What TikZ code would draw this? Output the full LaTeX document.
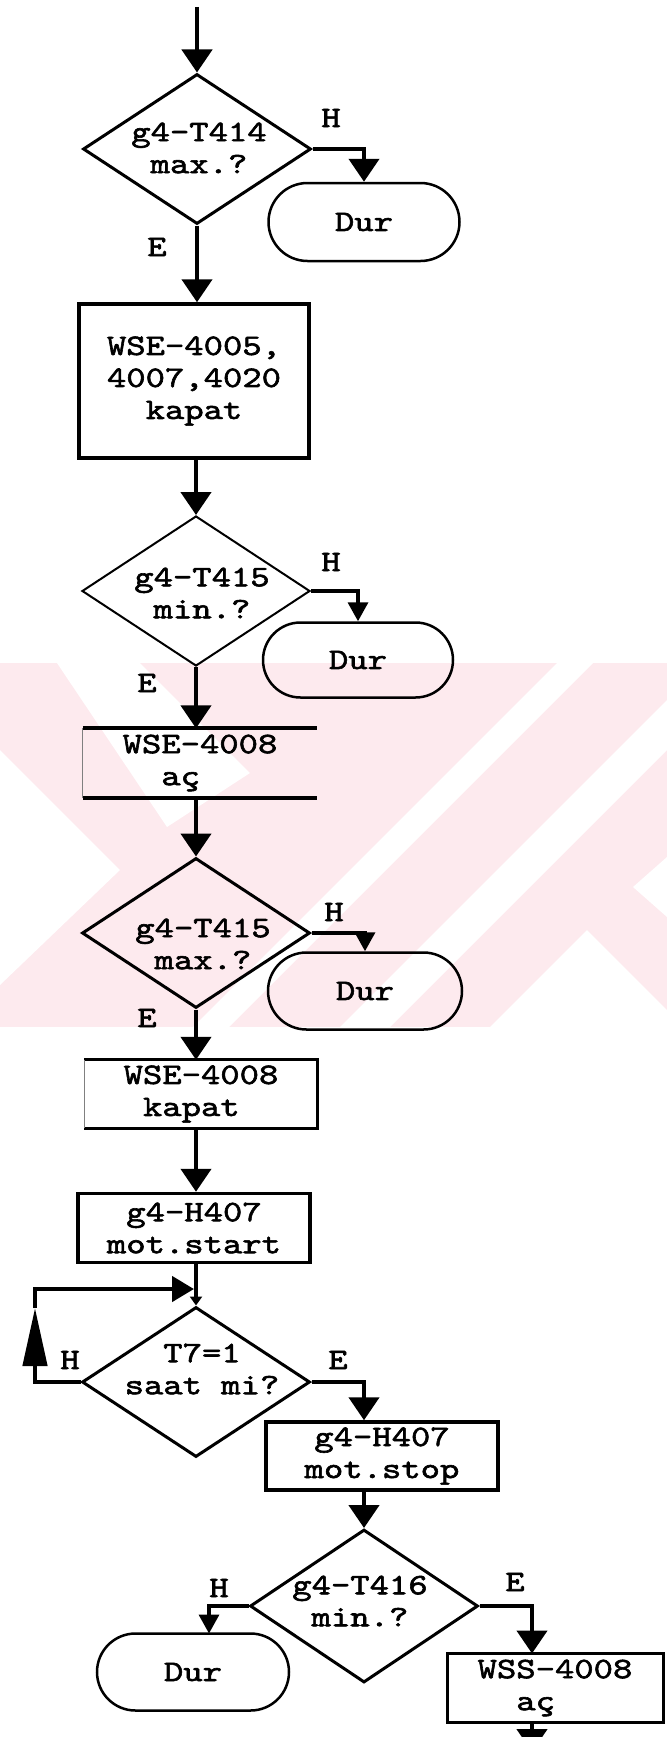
\documentclass[tikz,border=0pt]{standalone}
\usepackage{fontspec}
\usetikzlibrary{shapes.geometric,shapes.misc,arrows.meta,calc}
\newfontfamily\tw{lmmono10-regular.otf}[FakeStretch=1.24,FakeBold=2]
\definecolor{wm}{RGB}{253,234,238}
\tikzset{
  txt/.style={font=\tw\fontsize{29.7pt}{32pt}\selectfont, inner sep=0pt, align=center},
  lab/.style={font=\tw\fontsize{29.7pt}{32pt}\selectfont, inner sep=0pt},
  dia/.style={diamond, draw, line width=3pt, minimum width=228pt, minimum height=150pt, inner sep=0pt},
  pbox/.style={rectangle, draw, line width=3.5pt, inner sep=0pt, txt},
  obox/.style={rectangle, inner sep=0pt, txt, align=left},
  stop/.style={rounded rectangle, draw, line width=2.5pt, inner sep=0pt, txt},
  conn/.style={line width=4.5pt, -{Triangle[width=30pt,length=23pt]}},
  sconn/.style={line width=3.5pt, -{Triangle[width=20pt,length=19pt]}},
  edge/.style={line width=4pt}
}
\begin{document}
\begin{tikzpicture}[x=1pt,y=-1pt]
\useasboundingbox (0,0) rectangle (667,1737);
\clip (0,0) rectangle (667,1737);
\fill[white] (0,0) rectangle (667,1737);
% watermark
\begin{scope}
\clip (0,663) rectangle (667,1027);
\fill[wm] (0,663) rectangle (667,1027);
\fill[white] (557,663) -- (593,663) -- (193,1063) -- (157,1063) -- cycle;
\fill[white] (704,663) -- (754,663) -- (390,1027) -- (340,1027) -- cycle;
\fill[white] (57,663) -- (140,663) -- (250,773) -- (167,827) -- cycle;
\fill[white] (0,750) -- (120,870) -- (0,985) -- cycle;
\fill[white] (490,1027) -- (587,930) -- (684,1027) -- cycle;
\fill[white] (667,857) -- (633,887) -- (667,917) -- cycle;
\end{scope}

% nodes
\node[dia] (d1) at (197,149) {};
\node[txt] (d1t) at (199,148) {g4-T414\\max.?};
\node[stop, minimum width=191pt, minimum height=78pt] (s1) at (364,222) {Dur};
\node[pbox, minimum width=230pt, minimum height=154pt] (b1) at (194,381) {WSE-4005,\\4007,4020\\kapat};

\node[dia, line width=2pt] (d2) at (196,591) {};
\node[txt] (d2t) at (202,593) {g4-T415\\min.?};
\node[stop, minimum width=190pt, minimum height=75pt] (s2) at (358,660) {Dur};
\node[obox, minimum width=234pt, minimum height=69pt] (b2) at (200,763) {WSE-4008\\\phantom{WS}aç};
\draw[edge] (b2.north west) -- (b2.north east);
\draw[edge] (b2.south west) -- (b2.south east);
\draw[line width=0.8pt, gray] (b2.north west) -- (b2.south west);

\node[dia] (d3) at (196,933) {};
\node[txt] (d3t) at (203,944) {g4-T415\\max.?};
\node[stop, minimum width=194pt, minimum height=77pt] (s3) at (365,991) {Dur};
\node[obox, minimum width=233pt, minimum height=68pt] (b3) at (201,1094) {WSE-4008\\\phantom{W}kapat};
\draw[line width=3pt] (b3.north west) -- (b3.north east) -- (b3.south east) -- (b3.south west);
\draw[line width=0.8pt, gray] (b3.north west) -- (b3.south west);

\node[pbox, minimum width=232pt, minimum height=69pt] (b4) at (194,1228) {g4-H407\\mot.start};
\node[dia] (d4) at (196,1382) {};
\node[txt] (d4t) at (202,1369) {T7=1\\saat mi?};
\node[pbox, minimum width=232pt, minimum height=68pt] (b5) at (382,1456) {g4-H407\\mot.stop};
\node[dia, minimum height=153pt] (d5) at (364,1606) {};
\node[txt] (d5t) at (360,1601) {g4-T416\\min.?};
\node[stop, minimum width=192pt, minimum height=77pt] (s4) at (193,1672) {Dur};
\node[obox, draw, line width=3pt, minimum width=216pt, minimum height=69pt] (b6) at (555,1688) {WSS-4008\\\phantom{WS}aç};

% labels
\node[lab] (h1) at (331,118) {H};
\node[lab] (e1) at (157,247) {E};
\node[lab] (h2) at (331,562) {H};
\node[lab] (e2) at (147,683) {E};
\node[lab] (h3) at (334,912) {H};
\node[lab] (e3) at (147,1018) {E};
\node[lab] (h4) at (70,1360) {H};
\node[lab] (e4) at (338,1360) {E};
\node[lab] (h5) at (219,1588) {H};
\node[lab] (e5) at (515,1582) {E};

% connectors
\coordinate (top) at (197,7);
\draw[conn] (top) -- (d1.north);
\draw[conn] (d1.east) -| (s1.north);
\draw[conn] (d1.south) -- (d1.south |- b1.north);
\draw[conn] (d2.north |- b1.south) -- (d2.north);
\draw[sconn] (d2.east) -| (s2.north);
\draw[conn] (d2.south) -- (d2.south |- b2.north);
\draw[conn] (d3.north |- b2.south) -- (d3.north);
\draw[sconn] (d3.east) -| (s3.north);
\draw[conn] (d3.south) -- (d3.south |- b3.north);
\draw[conn] (d3.south |- b3.south) -- (d3.south |- b4.north);
\draw[line width=4.5pt, -{Triangle[width=12pt,length=9pt]}] (d4.north |- b4.south) -- (d4.north);
\coordinate (lb) at (35,1382);
\coordinate (lm) at (35,1308);
\coordinate (lt) at (35,1289);
\coordinate (lj) at (194,1289);
\draw[line width=4.5pt, -{Triangle[width=24pt,length=58pt]}] (d4.west) -- (lb) -- (lm);
\draw[line width=4.5pt, -{Triangle[width=25pt,length=22pt]}] (lm) -- (lt) -- (lj);
\draw[conn] (d4.east) -| (d5.north |- b5.north);
\draw[conn] (d5.north |- b5.south) -- (d5.north);
\coordinate (hd5) at (209,1633.5);
\draw[sconn] (d5.west) -| (hd5);
\coordinate (ed5) at (532,1653.5);
\draw[conn] (d5.east) -| (ed5);
\coordinate (b6o) at (532,1722.5);
\coordinate (b6e) at (532,1752);
\draw[conn] (b6o) -- (b6e);
\end{tikzpicture}
\end{document}
